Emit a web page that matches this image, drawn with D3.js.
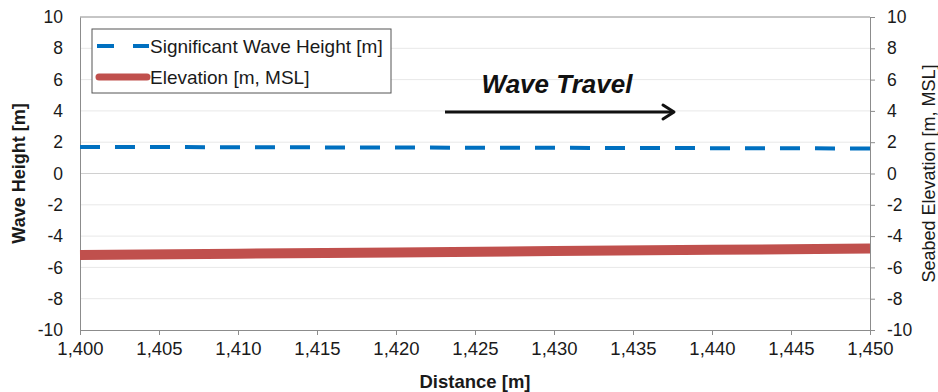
<!DOCTYPE html>
<html>
<head>
<meta charset="utf-8">
<script src="https://cdn.jsdelivr.net/npm/d3@7"></script>
<style>
  body { margin: 0; background: #fff; }
  svg { display: block; font-family: Arial, "Liberation Sans", sans-serif; }
</style>
</head>
<body>
<div id="chart"></div>
<script>
// chart data
const distance = [1400, 1410, 1420, 1430, 1440, 1450];
const waveHeight = [1.7, 1.68, 1.66, 1.64, 1.62, 1.6];
const elevation = [-5.2, -5.12, -5.04, -4.96, -4.88, -4.8];
const xTicks = [1400, 1405, 1410, 1415, 1420, 1425, 1430, 1435, 1440, 1445, 1450];
const yTicks = [-10, -8, -6, -4, -2, 0, 2, 4, 6, 8, 10];
const legendLabels = ["Significant Wave Height [m]", "Elevation [m, MSL]"];

const width = 938, height = 392;
const margin = { top: 17, right: 68, bottom: 62, left: 80 };
const innerW = width - margin.left - margin.right;
const innerH = height - margin.top - margin.bottom;

const svg = d3.select("#chart")
  .append("svg")
  .attr("width", width)
  .attr("height", height);

const g = svg.append("g")
  .attr("transform", `translate(${margin.left},${margin.top})`);

const x = d3.scaleLinear().domain([1400, 1450]).range([0, innerW]);
const y = d3.scaleLinear().domain([-10, 10]).range([innerH, 0]);
const y2 = d3.scaleLinear().domain([-10, 10]).range([innerH, 0]);

// gridlines
g.append("g")
  .selectAll("line")
  .data(yTicks.filter(d => d !== -10 && d !== 10))
  .join("line")
  .attr("x1", 0).attr("x2", innerW)
  .attr("y1", d => y(d)).attr("y2", d => y(d))
  .attr("stroke", d => d === 0 ? "#d0d0d0" : "#e8e8e8")
  .attr("stroke-width", 1);

// plot border (top)
g.append("line")
  .attr("x1", 0).attr("x2", innerW)
  .attr("y1", 0).attr("y2", 0)
  .attr("stroke", "#8c8c8c");

// axes (plain hyphen for negatives, like the original)
const fmt = d3.format(",");
const yFmt = d => String(d);
const xAxis = g.append("g")
  .attr("transform", `translate(0,${innerH})`)
  .call(d3.axisBottom(x).tickValues(xTicks).tickFormat(fmt).tickSize(5).tickPadding(7));

const yAxis = g.append("g")
  .call(d3.axisLeft(y).tickValues(yTicks).tickFormat(yFmt).tickSize(0).tickPadding(17));

const yAxis2 = g.append("g")
  .attr("transform", `translate(${innerW},0)`)
  .call(d3.axisRight(y2).tickValues(yTicks).tickFormat(yFmt).tickSize(5).tickPadding(12));

[xAxis, yAxis, yAxis2].forEach(a => {
  a.select(".domain").attr("stroke", "#8c8c8c");
  a.selectAll(".tick line").attr("stroke", "#8c8c8c");
  a.selectAll("text")
    .attr("fill", "#1a1a1a")
    .style("font-size", "17.5px")
    .style("font-family", "Arial, 'Liberation Sans', sans-serif");
});
xAxis.selectAll("text").style("font-size", "18.5px");

// series
const line = (vals, scale) => d3.line()
  .x((d, i) => x(distance[i]))
  .y(d => scale(d))(vals);

g.append("path")
  .attr("d", line(elevation, y2))
  .attr("fill", "none")
  .attr("stroke", "#c0504d")
  .attr("stroke-width", 10);

g.append("path")
  .attr("d", line(waveHeight, y))
  .attr("fill", "none")
  .attr("stroke", "#0070c0")
  .attr("stroke-width", 4)
  .attr("stroke-dasharray", "20,15");

// axis titles
svg.append("text")
  .attr("x", margin.left + innerW / 2)
  .attr("y", 388)
  .attr("text-anchor", "middle")
  .style("font-size", "18.5px")
  .style("font-weight", "bold")
  .attr("fill", "#1a1a1a")
  .text("Distance [m]");

svg.append("text")
  .attr("transform", `translate(25,${margin.top + innerH / 2}) rotate(-90)`)
  .attr("text-anchor", "middle")
  .style("font-size", "18px")
  .style("font-weight", "bold")
  .attr("fill", "#1a1a1a")
  .text("Wave Height [m]");

svg.append("text")
  .attr("transform", `translate(935,${margin.top + innerH / 2}) rotate(-90)`)
  .attr("text-anchor", "middle")
  .style("font-size", "18px")
  .attr("fill", "#1a1a1a")
  .text("Seabed Elevation [m, MSL]");

// legend
const legend = svg.append("g").attr("transform", "translate(92,29)");
legend.append("rect")
  .attr("width", 299).attr("height", 64)
  .attr("fill", "#fff")
  .attr("stroke", "#555")
  .attr("stroke-width", 1);

legend.append("line")
  .attr("x1", 5).attr("x2", 57).attr("y1", 17).attr("y2", 17)
  .attr("stroke", "#0070c0").attr("stroke-width", 4)
  .attr("stroke-dasharray", "17,19");
legend.append("line")
  .attr("x1", 7).attr("x2", 55).attr("y1", 48).attr("y2", 48)
  .attr("stroke", "#c0504d").attr("stroke-width", 7)
  .attr("stroke-linecap", "round");

legend.selectAll("text.lbl")
  .data(legendLabels)
  .join("text")
  .attr("class", "lbl")
  .attr("x", 58)
  .attr("y", (d, i) => 17 + i * 31)
  .attr("dy", "0.35em")
  .style("font-size", "19px")
  .attr("fill", "#1a1a1a")
  .text(d => d);

// annotation
svg.append("text")
  .attr("x", 557)
  .attr("y", 93)
  .attr("text-anchor", "middle")
  .style("font-size", "26px")
  .style("font-weight", "bold")
  .style("font-style", "italic")
  .attr("fill", "#111")
  .text("Wave Travel");

svg.append("line")
  .attr("x1", 445).attr("x2", 673).attr("y1", 112).attr("y2", 112)
  .attr("stroke", "#111").attr("stroke-width", 3);
svg.append("path")
  .attr("d", "M663,105 L674,112 L663,119")
  .attr("fill", "none")
  .attr("stroke", "#111")
  .attr("stroke-width", 3)
  .attr("stroke-linecap", "round")
  .attr("stroke-linejoin", "round");
</script>
</body>
</html>
